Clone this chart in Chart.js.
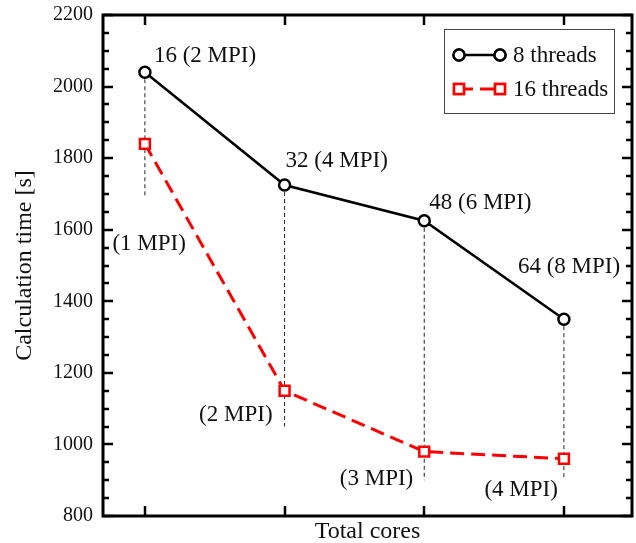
<!DOCTYPE html>
<html>
<head>
<meta charset="utf-8">
<script src="https://cdn.jsdelivr.net/npm/chart.js@4/dist/chart.umd.min.js"></script>
<style>
  body { margin: 0; background: #fff; }
</style>
</head>
<body>
<canvas id="result" width="636" height="543"></canvas>
<script>
var cores = [16, 32, 48, 64];
var eightThreads = [2040, 1725, 1625, 1350];
var sixteenThreads = [1840, 1150, 980, 960];
var guideBottom = [1690, 1050, 900, 900];
var topLabels = ['16 (2 MPI)', '32 (4 MPI)', '48 (6 MPI)', '64 (8 MPI)'];
var bottomLabels = ['(1 MPI)', '(2 MPI)', '(3 MPI)', '(4 MPI)'];
var seriesNames = ['8 threads', '16 threads'];

var SERIF = "'Liberation Serif', 'Times New Roman', serif";

// pixel nudges for the text next to each point
var topOffsets = [[9, -16], [1, -24], [5, -18], [-46, -52]];
var bottomOffsets = [[41, 46], [-12, -12], [-11, -1], [-6, 10]];

function points(ys) {
    return cores.map(function (c, i) { return {x: c, y: ys[i]}; });
}

var datasets = [
    {
        label: seriesNames[0],
        data: points(eightThreads),
        borderColor: '#000',
        borderWidth: 2.5,
        pointStyle: 'circle',
        pointRadius: 5.5,
        pointBorderWidth: 2.5,
        pointBackgroundColor: '#fff',
        pointBorderColor: '#000',
        order: 1
    },
    {
        label: seriesNames[1],
        data: points(sixteenThreads),
        borderColor: '#ff0000',
        borderWidth: 3,
        borderDash: [14, 7],
        pointStyle: 'rect',
        pointRadius: 7,
        pointBorderWidth: 2.5,
        pointBackgroundColor: '#fff',
        pointBorderColor: '#ff0000',
        order: 2
    }
];

cores.forEach(function (c, i) {
    datasets.push({
        label: 'guide',
        data: [{x: c, y: eightThreads[i]}, {x: c, y: guideBottom[i]}],
        borderColor: '#222',
        borderWidth: 1,
        borderDash: [4, 3],
        pointRadius: 0,
        order: 5
    });
});

var framePlugin = {
    id: 'frame',
    afterDraw: function (chart) {
        var ctx = chart.ctx;
        var a = chart.chartArea;
        var xs = chart.scales.x, ys = chart.scales.y;
        ctx.save();
        ctx.strokeStyle = '#000';

        // inward ticks
        ctx.lineWidth = 2.5;
        ys.ticks.forEach(function (t) {
            var py = Math.round(ys.getPixelForValue(t.value));
            var len = t.value % 200 === 0 ? 10 : 6;
            ctx.beginPath();
            ctx.moveTo(a.left, py); ctx.lineTo(a.left + len, py);
            ctx.moveTo(a.right, py); ctx.lineTo(a.right - len, py);
            ctx.stroke();
        });
        xs.ticks.forEach(function (t) {
            var px = Math.round(xs.getPixelForValue(t.value));
            ctx.beginPath();
            ctx.moveTo(px, a.bottom); ctx.lineTo(px, a.bottom - 10);
            ctx.moveTo(px, a.top); ctx.lineTo(px, a.top + 10);
            ctx.stroke();
        });

        ctx.lineWidth = 3;
        ctx.strokeRect(a.left, a.top, a.right - a.left, a.bottom - a.top);

        // point labels
        ctx.fillStyle = '#111';
        ctx.font = '23px ' + SERIF;
        ctx.textBaseline = 'middle';
        cores.forEach(function (c, i) {
            var px = xs.getPixelForValue(c);
            ctx.textAlign = 'left';
            ctx.fillText(topLabels[i], px + topOffsets[i][0], ys.getPixelForValue(eightThreads[i]) + topOffsets[i][1]);
            ctx.textAlign = 'right';
            ctx.fillText(bottomLabels[i], px + bottomOffsets[i][0], ys.getPixelForValue(guideBottom[i]) + bottomOffsets[i][1]);
        });

        // legend box
        var bx = 444, by = 29, bw = 170, bh = 84;
        ctx.lineWidth = 1;
        ctx.strokeStyle = '#444';
        ctx.fillStyle = '#fff';
        ctx.fillRect(bx, by, bw, bh);
        ctx.strokeRect(bx + 0.5, by + 0.5, bw, bh);
        [0, 1].forEach(function (k) {
            var ds = chart.data.datasets[k];
            var ly = by + 26 + k * 34;
            var x1 = bx + 15, x2 = bx + 56;
            ctx.save();
            ctx.strokeStyle = ds.borderColor;
            ctx.lineWidth = ds.borderWidth;
            ctx.setLineDash(ds.borderDash || []);
            ctx.beginPath();
            ctx.moveTo(x1, ly); ctx.lineTo(x2, ly);
            ctx.stroke();
            ctx.setLineDash([]);
            ctx.lineWidth = ds.pointBorderWidth;
            [x1, x2].forEach(function (mx) {
                Chart.helpers.drawPoint(ctx, {
                    pointStyle: ds.pointStyle,
                    radius: ds.pointRadius,
                    borderWidth: ds.pointBorderWidth
                }, mx, ly);
                ctx.fillStyle = ds.pointBackgroundColor;
                ctx.strokeStyle = ds.pointBorderColor;
                ctx.fill();
                ctx.stroke();
            });
            ctx.restore();
            ctx.fillStyle = '#111';
            ctx.textAlign = 'left';
            ctx.fillText(ds.label, bx + 69, ly + 1);
        });
        ctx.restore();
    }
};

new Chart(document.getElementById('result'), {
    type: 'line',
    data: {datasets: datasets},
    options: {
        responsive: false,
        animation: false,
        layout: {autoPadding: false, padding: {top: 15, right: 4, left: 0, bottom: 0}},
        plugins: {legend: {display: false}, tooltip: {enabled: false}},
        scales: {
            x: {
                type: 'linear',
                min: 11.2,
                max: 71.8,
                afterBuildTicks: function (scale) {
                    scale.ticks = cores.map(function (c) { return {value: c}; });
                },
                afterFit: function (scale) {
                    scale.height = 27;
                    scale.paddingLeft = 0;
                    scale.paddingRight = 0;
                },
                ticks: {display: false},
                grid: {display: false, drawTicks: false},
                border: {display: false},
                title: {
                    display: true,
                    text: 'Total cores',
                    color: '#111',
                    font: {family: SERIF, size: 24},
                    padding: {top: 0, bottom: -3}
                }
            },
            y: {
                min: 800,
                max: 2200,
                afterFit: function (scale) {
                    scale.width = 103;
                    scale.paddingTop = 0;
                    scale.paddingBottom = 0;
                },
                ticks: {
                    stepSize: 50,
                    autoSkip: false,
                    padding: 10,
                    color: '#111',
                    font: {family: SERIF, size: 20},
                    callback: function (v) { return v % 200 === 0 ? v : ''; }
                },
                grid: {display: false, drawTicks: false},
                border: {display: false},
                title: {
                    display: true,
                    text: 'Calculation time [s]',
                    color: '#111',
                    font: {family: SERIF, size: 24},
                    padding: {top: 10, bottom: 0}
                }
            }
        }
    },
    plugins: [framePlugin]
});
</script>
</body>
</html>
